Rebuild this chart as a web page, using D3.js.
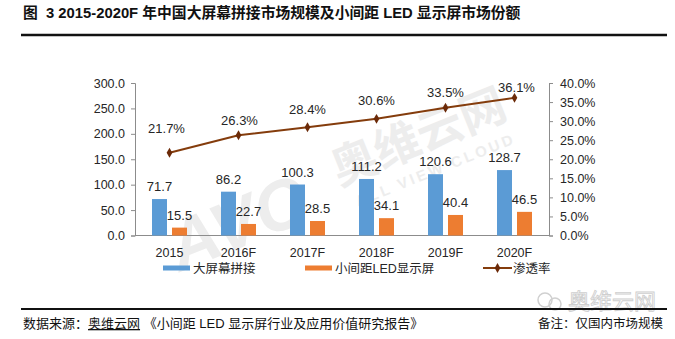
<!DOCTYPE html>
<html>
<head>
<meta charset="utf-8">
<script src="https://cdn.jsdelivr.net/npm/d3@7/dist/d3.min.js"></script>
<style>
  html, body { margin: 0; padding: 0; background: #fff; }
  svg { display: block; }
  text { font-family: "Liberation Sans", Arial, "Noto Sans CJK SC", sans-serif; }
</style>
</head>
<body>
<svg id="chart" width="675" height="339"></svg>
<script>
// Market size (亿元) and penetration rate, 2015–2020F
const years = ["2015", "2016F", "2017F", "2018F", "2019F", "2020F"];
const spliceSize = [71.7, 86.2, 100.3, 111.2, 120.6, 128.7];   // 大屏幕拼接
const ledSize = [15.5, 22.7, 28.5, 34.1, 40.4, 46.5];          // 小间距LED显示屏
const penetration = [21.7, 26.3, 28.4, 30.6, 33.5, 36.1];     // 渗透率 (%)
const leftTicks = [0, 50, 100, 150, 200, 250, 300];
const rightTicks = [0, 5, 10, 15, 20, 25, 30, 35, 40];
const seriesNames = ["大屏幕拼接", "小间距LED显示屏", "渗透率"];

// manual lift of each rate label above its point (px)
const rateLabelLift = [24, 15, 18, 18, 15, 10];
const rateLabelShift = [-3, 1, 0, 0, 0, 2];

const BLUE = "#5b9bd5", ORANGE = "#ed7d31", BROWN = "#843c0c", AXIS = "#8c8c8c", TXT = "#262626";

const svg = d3.select("#chart");

// title
svg.append("text")
  .attr("x", 23).attr("y", 18)
  .attr("font-size", 14.8).attr("font-weight", "bold").attr("fill", "#111")
  .style("white-space", "pre")
  .text("图  3 2015-2020F 年中国大屏幕拼接市场规模及小间距 LED 显示屏市场份额");
svg.append("line").attr("x1", 21).attr("x2", 667).attr("y1", 35).attr("y2", 35)
  .attr("stroke", "#111").attr("stroke-width", 2.5);

// plot area
const plotLeft = 135, plotRight = 549, plotTop = 83, plotBottom = 235.5;

const x = d3.scaleBand().domain(years).range([plotLeft, plotRight]).paddingInner(34 / 69).paddingOuter(17 / 69);
const xs = d3.scaleBand().domain([0, 1]).range([0, x.bandwidth()]).paddingInner(0.25);
const y = d3.scaleLinear().domain([0, 300]).range([plotBottom, plotTop]);
const yr = d3.scaleLinear().domain([0, 40]).range([plotBottom, plotTop]);
const xc = d => x(d) + x.bandwidth() / 2;

// faint brand watermark behind the plot
const wm = svg.append("g").attr("transform", "translate(330,190) rotate(-22)").attr("fill", "#ededed");
wm.append("text").attr("x", -170).attr("y", 20).attr("font-size", 70).attr("font-weight", "bold")
  .attr("font-style", "italic").text("AVC");
wm.append("text").attr("x", 10).attr("y", 0).attr("font-size", 46).attr("font-weight", "bold")
  .attr("font-family", "Noto Sans CJK SC").text("奥维云网");
wm.append("text").attr("x", 20).attr("y", 26).attr("font-size", 15).attr("font-weight", "bold")
  .attr("letter-spacing", 3).text("ALL VIEW CLOUD");

// axes
const yAxis = d3.axisLeft(y).tickValues(leftTicks).tickSize(4).tickPadding(6).tickFormat(d3.format(".1f"));
const yrAxis = d3.axisRight(yr).tickValues(rightTicks).tickSize(4).tickPadding(7).tickFormat(d => d3.format(".1f")(d) + "%");

function styleAxis(g) {
  g.selectAll("path, line").attr("stroke", AXIS);
  g.selectAll("text").attr("font-size", 12.5).attr("fill", TXT)
    .attr("font-family", "'Liberation Sans', Arial, sans-serif");
}
svg.append("g").attr("transform", `translate(${plotLeft},0)`).call(yAxis).call(styleAxis);
svg.append("g").attr("transform", `translate(${plotRight},0)`).call(yrAxis).call(styleAxis);
svg.append("line").attr("x1", plotLeft).attr("x2", plotRight).attr("y1", plotBottom).attr("y2", plotBottom).attr("stroke", AXIS);

svg.append("g").selectAll("text").data(years).join("text")
  .attr("x", d => xc(d)).attr("y", plotBottom + 21)
  .attr("text-anchor", "middle").attr("font-size", 12.5).attr("fill", TXT).text(d => d);

// bars
const bars = [
  { vals: spliceSize, color: BLUE, k: 0 },
  { vals: ledSize, color: ORANGE, k: 1 }
];
bars.forEach(s => {
  const g = svg.append("g");
  g.selectAll("rect").data(s.vals).join("rect")
    .attr("x", (d, i) => x(years[i]) + xs(s.k))
    .attr("width", xs.bandwidth())
    .attr("y", d => y(d))
    .attr("height", d => y(0) - y(d))
    .attr("fill", s.color);
  g.selectAll("text").data(s.vals).join("text")
    .attr("x", (d, i) => x(years[i]) + xs(s.k) + xs.bandwidth() / 2)
    .attr("y", d => y(d) - 8)
    .attr("text-anchor", "middle").attr("font-size", 13).attr("fill", TXT)
    .text(d => d3.format(".1f")(d));
});

// penetration line
const line = d3.line().x((d, i) => xc(years[i])).y(d => yr(d));
svg.append("path").datum(penetration).attr("d", line)
  .attr("fill", "none").attr("stroke", BROWN).attr("stroke-width", 2);
svg.append("g").selectAll("path").data(penetration).join("path")
  .attr("d", d3.symbol(d3.symbolDiamond, 28))
  .attr("transform", (d, i) => `translate(${xc(years[i])},${yr(d)})`)
  .attr("fill", "#6b2a08");
svg.append("g").selectAll("text").data(penetration).join("text")
  .attr("x", (d, i) => xc(years[i]) + rateLabelShift[i])
  .attr("y", (d, i) => yr(d) - rateLabelLift[i] + 4.5)
  .attr("text-anchor", "middle").attr("font-size", 13).attr("fill", TXT)
  .text(d => d3.format(".1f")(d) + "%");

// legend
const lg = svg.append("g").attr("font-size", 12.5).attr("fill", TXT);
const legendItems = [
  { name: seriesNames[0], x: 163, type: "bar", color: BLUE },
  { name: seriesNames[1], x: 305, type: "bar", color: ORANGE },
  { name: seriesNames[2], x: 483, type: "line", color: BROWN }
];
const ly = 268;
legendItems.forEach(it => {
  if (it.type === "bar") {
    lg.append("rect").attr("x", it.x).attr("y", ly - 2.5).attr("width", 27).attr("height", 5).attr("fill", it.color);
  } else {
    lg.append("line").attr("x1", it.x).attr("x2", it.x + 29).attr("y1", ly).attr("y2", ly)
      .attr("stroke", it.color).attr("stroke-width", 2);
    lg.append("path").attr("d", d3.symbol(d3.symbolDiamond, 28)).attr("transform", `translate(${it.x + 14.5},${ly})`)
      .attr("fill", "#6b2a08");
  }
  lg.append("text").attr("x", it.x + 30).attr("y", ly + 4.5).attr("font-family", "Noto Sans CJK SC, sans-serif").text(it.name);
});

// footer
const wm2 = svg.append("g");
wm2.append("circle").attr("cx", 545).attr("cy", 300).attr("r", 7).attr("fill", "none").attr("stroke", "#d0d0d0").attr("stroke-width", 1.5);
wm2.append("circle").attr("cx", 555).attr("cy", 304).attr("r", 6).attr("fill", "none").attr("stroke", "#d0d0d0").attr("stroke-width", 1.5);
wm2.append("text").attr("x", 568).attr("y", 309).attr("font-size", 22).attr("font-family", "Noto Sans CJK SC")
  .attr("fill", "none").attr("stroke", "#cfcfcf").attr("stroke-width", 0.9).text("奥维云网");

svg.append("line").attr("x1", 21).attr("x2", 667).attr("y1", 309).attr("y2", 309)
  .attr("stroke", "#111").attr("stroke-width", 2);

const foot = svg.append("text").attr("x", 23).attr("y", 328).attr("font-size", 13).attr("fill", "#111")
  .attr("font-family", "Noto Sans CJK SC, sans-serif");
foot.append("tspan").text("数据来源：");
foot.append("tspan").attr("text-decoration", "underline").attr("style", "text-decoration-style: dotted; text-decoration-color: #5050c0").text("奥维云网");
foot.append("tspan").text(" 《小间距 LED 显示屏行业及应用价值研究报告》");

svg.append("text").attr("x", 663).attr("y", 328).attr("text-anchor", "end").attr("font-size", 12.5)
  .attr("fill", "#111").attr("font-family", "Noto Sans CJK SC, sans-serif").text("备注：仅国内市场规模");
</script>
</body>
</html>
